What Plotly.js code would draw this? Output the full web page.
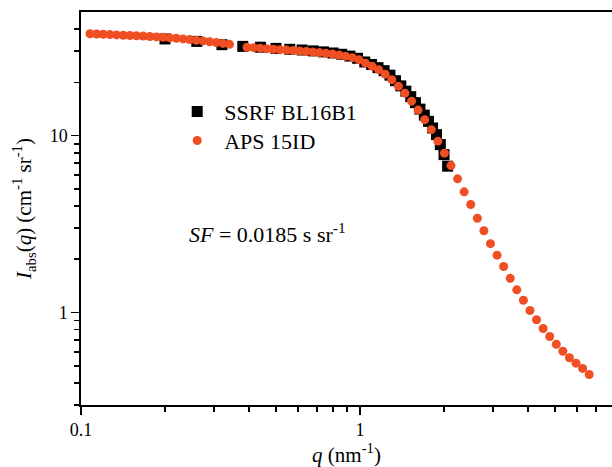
<!DOCTYPE html>
<html>
<head>
<meta charset="utf-8">
<script src="https://cdn.plot.ly/plotly-3.0.1.min.js"></script>
<style>html,body{margin:0;padding:0;background:#fff;}#chart{width:612px;height:467px;}</style>
</head>
<body>
<div id="chart"></div>
<script>
// SSRF BL16B1 (black squares)
const ssrfQ = [0.20, 0.26, 0.32, 0.38, 0.44, 0.50, 0.56, 0.62, 0.68, 0.74, 0.80, 0.86, 0.92, 0.98,
  1.04, 1.10, 1.16, 1.22, 1.28, 1.34, 1.40, 1.46, 1.52, 1.58, 1.64, 1.70, 1.76, 1.82, 1.88, 1.94, 2.00, 2.06];
const ssrfI = [35.2, 34.1, 32.66, 31.96, 31.62, 31.13, 30.77, 30.49, 30.14, 29.75, 29.33, 28.84, 28.17, 27.37,
  26.09, 25.25, 24.23, 23.29, 21.97, 20.45, 19.11, 17.84, 16.61, 15.36, 14.12, 13.06, 12.04, 11.05, 10.13, 8.90, 7.81, 6.72];

// APS 15ID (orange circles)
const apsQ = [0.1077, 0.1138, 0.1202, 0.1270, 0.1341, 0.1417, 0.1497, 0.1581, 0.1670, 0.1764, 0.1864, 0.1969,
  0.2080, 0.2197, 0.2321, 0.2452, 0.2590, 0.2736, 0.2890, 0.3053, 0.3225, 0.3407,
  0.3936, 0.4156, 0.4388, 0.4632, 0.4891, 0.5164, 0.5452, 0.5756, 0.6077, 0.6416, 0.6774, 0.7152, 0.7551,
  0.7972, 0.8417, 0.8887, 0.9383, 0.9906, 1.0459, 1.1043, 1.1659, 1.2310, 1.2997, 1.3722, 1.4488, 1.5296,
  1.6150, 1.7051, 1.8002, 1.9007, 2.0067, 2.1187, 2.2369, 2.3618, 2.4935, 2.6327, 2.7796, 2.9347, 3.0984,
  3.2713, 3.4539, 3.6466, 3.8501, 4.0649, 4.2917, 4.5312, 4.7840, 5.0510, 5.3328, 5.6304, 5.9446, 6.2763, 6.6265];
const apsI = [37.69, 37.55, 37.40, 37.25, 37.11, 36.96, 36.82, 36.68, 36.53, 36.35, 36.15, 35.96,
  35.73, 35.50, 35.22, 34.95, 34.63, 34.32, 33.96, 33.61, 33.22, 32.83,
  31.62, 31.42, 31.22, 31.01, 30.81, 30.61, 30.45, 30.29, 30.09, 29.90, 29.71, 29.47, 29.21,
  28.91, 28.57, 28.13, 27.59, 26.88, 25.68, 24.70, 23.60, 22.26, 20.72, 19.05, 17.39, 15.66,
  13.94, 12.31, 10.81, 9.31, 7.96, 6.77, 5.70, 4.81, 4.08, 3.41, 2.90, 2.45, 2.11,
  1.82, 1.56, 1.343, 1.173, 1.026, 0.910, 0.812, 0.732, 0.662, 0.604, 0.555, 0.517, 0.483, 0.446];

const xMajor = [0.1, 1];
const xMinor = [0.2, 0.3, 0.4, 0.5, 0.6, 0.7, 0.8, 0.9, 2, 3, 4, 5, 6, 7];
const yMajor = [1, 10];
const yMinor = [0.3, 0.4, 0.5, 0.6, 0.7, 0.8, 0.9, 2, 3, 4, 5, 6, 7, 8, 9, 20, 30, 40];

const serif = 'Liberation Serif, Times New Roman, serif';
const orange = '#F04E23';

const traces = [
  {x: ssrfQ, y: ssrfI, type: 'scatter', mode: 'markers', name: 'SSRF BL16B1', legend: 'legend',
   marker: {symbol: 'square', size: 11, color: '#000000'}},
  {x: apsQ, y: apsI, type: 'scatter', mode: 'markers', name: 'APS 15ID', legend: 'legend2',
   marker: {symbol: 'circle', size: 9, color: orange}}
];

const axisCommon = {
  type: 'log', showgrid: false, zeroline: false, showline: true, linecolor: '#000', linewidth: 1.6,
  ticks: 'outside', ticklen: 8, tickwidth: 1.6, tickcolor: '#000', tickmode: 'array',
  tickfont: {family: serif, size: 18, color: '#000'},
  minor: {ticks: 'outside', ticklen: 5, tickwidth: 1.6, tickcolor: '#000', showgrid: false}
};

const legendCommon = {xanchor: 'left', yanchor: 'top', bgcolor: 'rgba(0,0,0,0)',
  font: {family: serif, size: 22, color: '#000'}, itemsizing: 'trace', itemwidth: 44};

const layout = {
  width: 612, height: 467,
  margin: {l: 81, r: 0, t: 12, b: 62},
  paper_bgcolor: '#fff', plot_bgcolor: '#fff',
  showlegend: true,
  legend: Object.assign({}, legendCommon, {x: 0.168, y: 0.80}),
  legend2: Object.assign({}, legendCommon, {x: 0.168, y: 0.726}),
  xaxis: Object.assign({}, axisCommon, {
    range: [Math.log10(0.1), Math.log10(8)], tickvals: xMajor, ticktext: ['0.1', '1'],
    minor: Object.assign({}, axisCommon.minor, {tickvals: xMinor}),
    mirror: true,
    title: {text: '<i>q</i> (nm<sup>-1</sup>)', font: {family: serif, size: 21, color: '#000'}, standoff: 8}
  }),
  yaxis: Object.assign({}, axisCommon, {
    range: [Math.log10(0.3), Math.log10(50)], tickvals: yMajor, ticktext: ['1', '10'],
    minor: Object.assign({}, axisCommon.minor, {tickvals: yMinor}),
    title: {text: '<i>I</i><sub>abs</sub>(<i>q</i>) (cm<sup>-1</sup> sr<sup>-1</sup>)', font: {family: serif, size: 21, color: '#000'}, standoff: 12}
  }),
  annotations: [{
    xref: 'paper', yref: 'paper', x: 0.199, y: 0.438, xanchor: 'left', yanchor: 'middle', showarrow: false,
    text: '<i>SF</i> = 0.0185 s sr<sup>-1</sup>', font: {family: serif, size: 22, color: '#000'}
  }]
};

Plotly.newPlot('chart', traces, layout, {displayModeBar: false, staticPlot: true});
</script>
</body>
</html>
